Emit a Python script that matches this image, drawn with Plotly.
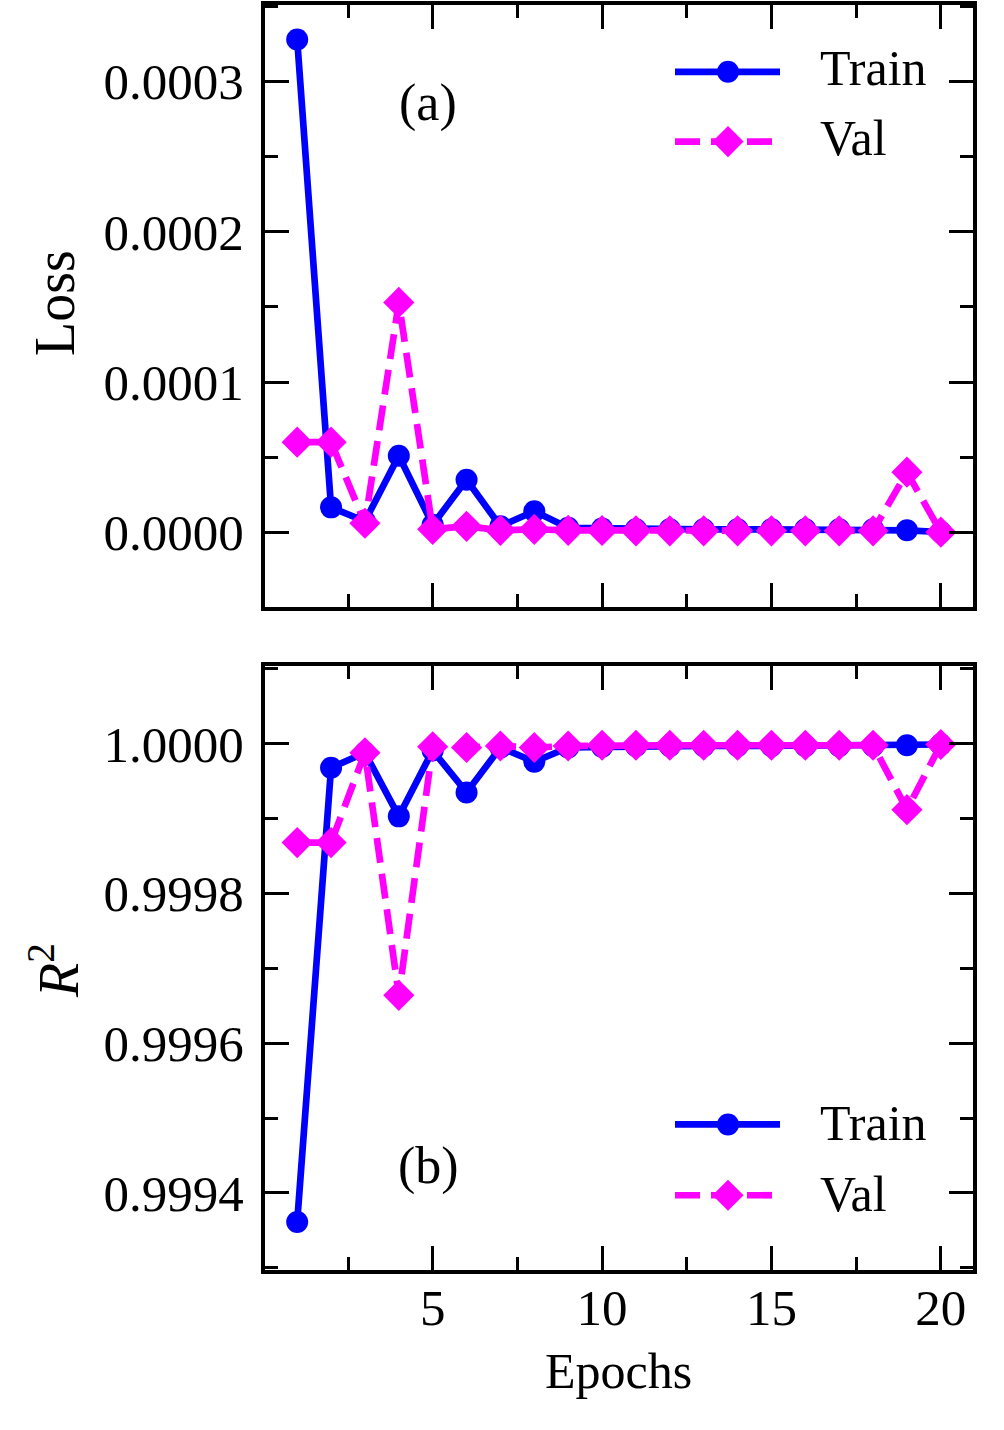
import plotly.graph_objects as go

epochs = list(range(1, 21))
loss_train = [3.28e-4, 0.166e-4, 0.073e-4, 0.51e-4, 0.05e-4, 0.35e-4, 0.04e-4, 0.14e-4, 0.03e-4, 0.025e-4,
              0.02e-4, 0.02e-4, 0.02e-4, 0.02e-4, 0.02e-4, 0.02e-4, 0.02e-4, 0.02e-4, 0.013e-4, 0.002e-4]
loss_val = [0.60e-4, 0.60e-4, 0.06e-4, 1.53e-4, 0.02e-4, 0.04e-4, 0.013e-4, 0.02e-4, 0.013e-4, 0.012e-4,
            0.01e-4, 0.01e-4, 0.01e-4, 0.01e-4, 0.01e-4, 0.01e-4, 0.01e-4, 0.01e-4, 0.40e-4, 0.001e-4]
r2_train = [0.999361, 0.999968, 0.999988, 0.999903, 0.999991, 0.999935, 0.999995, 0.999976, 0.999995, 0.999996,
            0.999997, 0.999997, 0.999997, 0.999997, 0.999997, 0.999997, 0.999997, 0.999997, 0.999998, 0.999999]
r2_val = [0.999868, 0.999868, 0.999988, 0.999664, 0.999996, 0.999995, 0.999997, 0.999995, 0.999997, 0.999998,
          0.999998, 0.999998, 0.999998, 0.999998, 0.999998, 0.999998, 0.999998, 0.999998, 0.999912, 0.999999]
series_names = ["Train", "Val"]
panel_labels = ["(a)", "(b)"]
loss_ticks = [0.0, 0.0001, 0.0002, 0.0003]
r2_ticks = [0.9994, 0.9996, 0.9998, 1.0]

BLUE = "#0000FF"
MAG = "#FF00FF"
FONT = "Liberation Serif"
W, H = 1004, 1430
L, R, T, B = 265, 31, 1, 160
PW, PH = W - L - R, H - T - B
LW = 6.7
MS_C = 22
MS_D = 24
DASH = "25px,11px"


def py(pix):
    return (H - B - pix) / PH


def px(pix):
    return (pix - L) / PW


top_dom = [py(605), 1.0]
bot_dom = [0.0, py(664)]

fig = go.Figure()

line_kw = dict(mode="lines+markers", showlegend=False)
fig.add_trace(go.Scatter(x=epochs, y=loss_train, xaxis="x", yaxis="y", **line_kw,
                         line=dict(color=BLUE, width=LW), marker=dict(symbol="circle", size=MS_C, color=BLUE)))
fig.add_trace(go.Scatter(x=epochs, y=loss_val, xaxis="x", yaxis="y", **line_kw,
                         line=dict(color=MAG, width=LW, dash=DASH),
                         marker=dict(symbol="diamond", size=MS_D, color=MAG)))
fig.add_trace(go.Scatter(x=epochs, y=r2_train, xaxis="x2", yaxis="y2", **line_kw,
                         line=dict(color=BLUE, width=LW), marker=dict(symbol="circle", size=MS_C, color=BLUE)))
fig.add_trace(go.Scatter(x=epochs, y=r2_val, xaxis="x2", yaxis="y2", **line_kw,
                         line=dict(color=MAG, width=LW, dash=DASH),
                         marker=dict(symbol="diamond", size=MS_D, color=MAG)))

# custom legends drawn on pixel-space helper axes
leg_rows = {"x3": [(68, series_names[0]), (138, series_names[1])],
            "x4": [(1124, series_names[0]), (1195, series_names[1])]}
annotations = []
for ax, rows in leg_rows.items():
    yax = "y3" if ax == "x3" else "y4"
    dy = 4 if ax == "x3" else 1
    for (yy, name) in rows:
        is_train = name == "Train"
        col = BLUE if is_train else MAG
        fig.add_trace(go.Scatter(x=[675, 780], y=[yy, yy], xaxis=ax, yaxis=yax, mode="lines",
                                 showlegend=False, hoverinfo="skip",
                                 line=dict(color=col, width=LW, dash="solid" if is_train else DASH)))
        fig.add_trace(go.Scatter(x=[728], y=[yy], xaxis=ax, yaxis=yax, mode="markers",
                                 showlegend=False, hoverinfo="skip",
                                 marker=dict(symbol="circle" if is_train else "diamond",
                                             size=MS_C if is_train else MS_D, color=col)))
        annotations.append(dict(text=name, x=px(818), y=py(yy - dy), xref="paper", yref="paper",
                                xanchor="left", yanchor="middle", showarrow=False,
                                font=dict(family=FONT, size=50, color="black")))

annotations += [
    dict(text="Loss", x=px(55), y=py(300), xref="paper", yref="paper", textangle=-90,
         xanchor="center", yanchor="middle", showarrow=False, font=dict(family=FONT, size=56, color="black")),
    dict(text="<i>R</i><sup>2</sup>", x=px(55), y=py(970), xref="paper", yref="paper", textangle=-90,
         xanchor="center", yanchor="middle", showarrow=False, font=dict(family=FONT, size=56, color="black")),
    dict(text="Epochs", x=px(618), y=py(1371), xref="paper", yref="paper",
         xanchor="center", yanchor="middle", showarrow=False, font=dict(family=FONT, size=50, color="black")),
    dict(text=panel_labels[0], x=px(428), y=py(99), xref="paper", yref="paper",
         xanchor="center", yanchor="middle", showarrow=False, font=dict(family=FONT, size=52, color="black")),
    dict(text=panel_labels[1], x=px(428), y=py(1166), xref="paper", yref="paper",
         xanchor="center", yanchor="middle", showarrow=False, font=dict(family=FONT, size=52, color="black")),
]

axis_common = dict(showline=True, linewidth=4, linecolor="black", mirror="allticks",
                   ticks="inside", ticklen=24, tickwidth=3, tickcolor="black",
                   showgrid=False, zeroline=False,
                   tickfont=dict(family=FONT, size=51, color="black"))
minor_common = dict(ticks="inside", ticklen=13, tickwidth=3, tickcolor="black")

fig.update_layout(
    width=W, height=H, margin=dict(l=L, r=R, t=T, b=B),
    paper_bgcolor="white", plot_bgcolor="white",
    annotations=annotations,
    xaxis=dict(domain=[0, 1], range=[0.05, 20.95], anchor="y", showticklabels=False,
               tick0=0, dtick=5, minor=dict(dtick=2.5, tick0=0, **minor_common),
               **axis_common),
    yaxis=dict(domain=top_dom, range=[-0.0000498, 0.000351], anchor="x",
               tickvals=loss_ticks, tickformat=".4f", ticklabelstandoff=7,
               minor=dict(dtick=0.00005, tick0=0, **minor_common),
               **axis_common),
    xaxis2=dict(domain=[0, 1], range=[0.05, 20.95], anchor="y2", matches="x",
                tick0=0, dtick=5, ticklabelstandoff=-10,
                minor=dict(dtick=2.5, tick0=0, **minor_common),
                **axis_common),
    yaxis2=dict(domain=bot_dom, range=[0.999297, 1.000104], anchor="x2",
                tickvals=r2_ticks, tickformat=".4f", ticklabelstandoff=7,
                minor=dict(dtick=0.0001, tick0=0.9993, **minor_common),
                **axis_common),
    xaxis3=dict(domain=[0, 1], range=[L, W - R], anchor="y3", overlaying="x", visible=False),
    yaxis3=dict(domain=top_dom, range=[605, T], anchor="x3", overlaying="y", visible=False),
    xaxis4=dict(domain=[0, 1], range=[L, W - R], anchor="y4", overlaying="x2", visible=False),
    yaxis4=dict(domain=bot_dom, range=[H - B, 664], anchor="x4", overlaying="y2", visible=False),
)

fig.write_html("out.html")
